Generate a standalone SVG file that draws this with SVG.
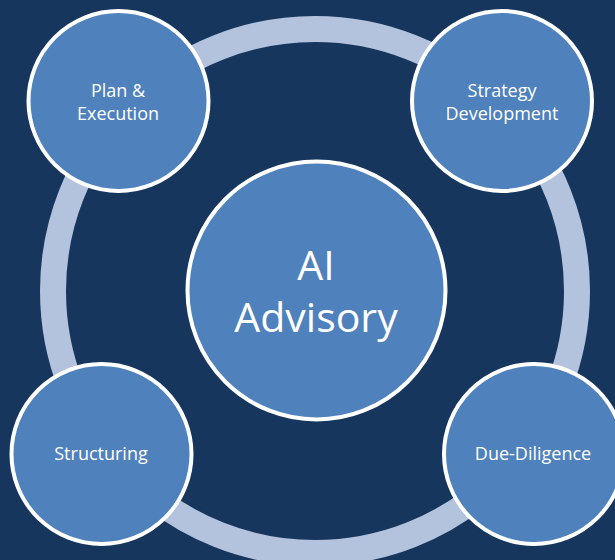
<svg xmlns="http://www.w3.org/2000/svg" width="615" height="560" viewBox="0 0 615 560">
<style>
.node{fill:#4f81bd;stroke:#ffffff;stroke-width:4}
.lbl{font-family:"Open Sans","Liberation Sans",sans-serif;font-size:18px;fill:#ffffff;text-anchor:middle}
.big{font-family:"Open Sans","Liberation Sans",sans-serif;font-size:41px;fill:#ffffff;text-anchor:middle}
</style>
<rect width="615" height="560" fill="#17365d"/>
<g id="connectors">
<circle cx="315" cy="291" r="262" fill="none" stroke="#b3c2dd" stroke-width="26"/>
</g>
<g id="center">
<circle class="node" cx="316.5" cy="290.5" r="129"/>
<text class="big" x="316" y="280">AI</text>
<text class="big" x="316" y="332">Advisory</text>
</g>
<g id="plan">
<circle class="node" cx="118.5" cy="101" r="90"/>
<text class="lbl" x="118" y="97">Plan &amp;</text>
<text class="lbl" x="118" y="120">Execution</text>
</g>
<g id="strategy">
<circle class="node" cx="502" cy="101" r="90"/>
<text class="lbl" x="502" y="97">Strategy</text>
<text class="lbl" x="502" y="120">Development</text>
</g>
<g id="structuring">
<circle class="node" cx="101.5" cy="454" r="90"/>
<text class="lbl" x="101" y="460">Structuring</text>
</g>
<g id="duediligence">
<circle class="node" cx="534" cy="454" r="90"/>
<text class="lbl" x="533" y="460">Due-Diligence</text>
</g>
</svg>
